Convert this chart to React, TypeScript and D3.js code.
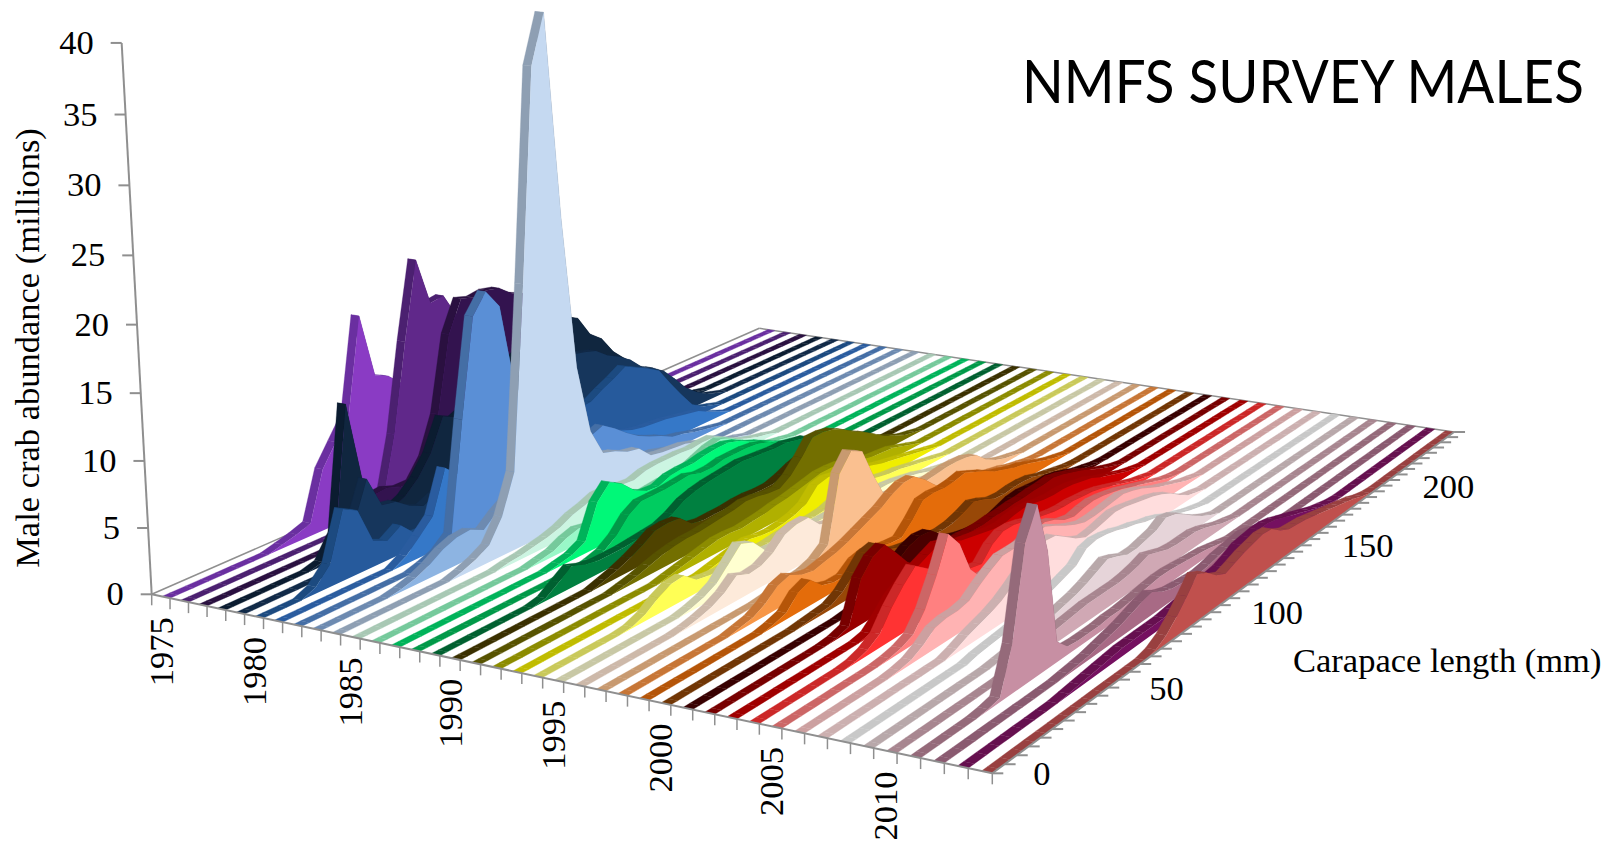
import { useEffect, useRef } from 'react';
import * as d3 from 'd3';

// abundance per 5 mm length bin, each list starts at the bin in startBins
const y1975 = [0.3, 0.6, 1, 4.8, 6.5, 8.2, 15.6, 10.5, 10, 9, 8, 6, 4, 3, 2, 1, 0.5, 0.2];
const y1976 = [0.5, 1.2, 6, 13, 19.1, 15.3, 15.5, 13.5, 11, 9, 7, 5, 3.5, 2.5, 1.5, 1, 0.5];
const y1977 = [1.5, 2.8, 2.9, 2.5, 2.5, 4, 7, 13, 15.5, 15.2, 15.4, 15.2, 14.4, 14, 12.5, 10.5, 9, 7, 5, 4, 3, 2, 1, 0.5];
const y1978 = [0.3, 2, 11.5, 5, 2, 2, 2.5, 3.5, 5, 7.5, 7, 7.5, 8, 9, 9.5, 10, 10.5, 11, 11.3, 11.5, 11, 9.3, 8.5, 7, 6, 5, 3.5, 2.5, 1.5, 0.8, 0.4, 0.2];
const y1979 = [0.5, 3, 6, 3.5, 3.3, 2.5, 2, 2.5, 3, 4, 5, 6, 7, 7.5, 8, 8.3, 8.5, 8.7, 9, 8.8, 8.5, 7.7, 7.2, 6.5, 5.5, 5, 4.3, 3.2, 2, 1.2, 0.6, 0.3];
const y1980 = [0.5, 1.7, 5.4, 4.8, 2, 1.5, 2.2, 1.1, 1, 1, 1.2, 1.5, 2, 2.5, 3, 3.5, 4, 4.3, 4.6, 5, 5.2, 5.3, 5.9, 6.4, 7, 6.5, 6, 5.4, 3.9, 2.5, 1.2, 0.6, 0.3];
const y1981 = [0.6, 1.6, 2.7, 6, 5, 3.5, 3, 2.8, 2.7, 2.7, 2.6, 2.6, 2.6, 2.7, 2.7, 2.7, 2.7, 2.7, 2.3, 2.1, 2, 1.9, 1.7, 1.5, 1.3, 0.8, 0.4];
const y1982 = [0.3, 0.7, 1.6, 10, 17.5, 19, 17.5, 11, 9, 7.5, 6.5, 5.5, 5, 4.3, 4.7, 4, 3.2, 2.5, 2, 1.6, 1.1, 0.9, 0.6, 0.4, 0.2];
const y1983 = [0.2, 0.5, 1, 1.7, 2.1, 2.2, 1.7, 2.6, 3.3, 3.5, 3.3, 3, 2.5, 2.2, 2, 2, 2, 2, 1.8, 1.6, 1.5, 1.2, 0.9, 0.6, 0.4, 0.2];
const y1984 = [0.3, 0.7, 1.3, 3, 6, 20, 36, 39.7, 24, 12, 6.5, 4.3, 4, 3.5, 3.3, 2.3, 2.1, 2, 1.9, 1.6, 1.2, 0.8, 0.5, 0.3];
const y1985 = [0.2, 0.3, 0.5, 0.7, 1, 1.5, 1.8, 2.2, 2.2, 2, 1.9, 2.2, 2.3, 2.3, 2.3, 2.2, 2.3, 2.3, 1.8, 1.2, 0.8, 0.5, 0.3];
const y1986 = [0.2, 0.4, 0.9, 1.2, 1, 1.1, 1.2, 1.4, 1.5, 1.6, 1.7, 1.7, 1.8, 2.2, 2.6, 2.8, 2.4, 1.8, 1.2, 0.7, 0.4, 0.2];
const y1987 = [0.2, 0.4, 0.9, 3.5, 4.6, 4, 3, 2.5, 2.4, 2.8, 2.9, 2.9, 3.1, 3.2, 3.2, 2.9, 2.4, 2, 1.5, 1, 0.6, 0.3];
const y1988 = [0.2, 0.5, 1.2, 2.3, 2.9, 2.9, 2.9, 3, 3.1, 2.8, 2.8, 3, 3, 3, 2.9, 2.6, 2, 1.5, 1, 0.6, 0.3];
const y1989 = [0.2, 0.9, 1.6, 1.2, 1, 1, 1, 1.1, 1.2, 1.3, 1.7, 2.3, 2.6, 2.8, 2.9, 3, 3.1, 3, 2.9, 2.8, 2.8, 2.6, 2.4, 1.8, 1.2, 0.8, 0.4, 0.2];
const y1990 = [0.3, 0.6, 1, 1.5, 2.1, 2.2, 2.1, 1.2, 1, 1, 1, 1.1, 1.1, 1, 1, 1.3, 1.7, 2, 2, 1.8, 1.5, 1.2, 0.8, 0.4, 0.2];
const y1991 = [0.2, 0.4, 0.7, 1, 1.2, 1.3, 1.3, 1.4, 1.5, 1.6, 1.8, 1.7, 1.5, 1.4, 2, 3, 4.2, 4.2, 4, 3.5, 2.9, 2.4, 1.8, 1.2, 0.8, 0.4, 0.2];
const y1992 = [0.2, 0.4, 0.6, 0.8, 1, 1, 0.9, 1, 1.1, 1.3, 1.4, 1.6, 1.8, 2, 2, 1.9, 1.6, 1.3, 1.1, 1, 0.9, 0.6, 0.3];
const y1993 = [0.2, 0.4, 0.6, 0.8, 0.6, 0.5, 0.6, 0.8, 1.2, 2.2, 2.4, 2.2, 2, 1.7, 1.5, 1.2, 1, 0.8, 0.6, 0.4, 0.2];
const y1994 = [0.1, 0.5, 1.2, 1.7, 1.8, 1, 0.8, 0.7, 0.8, 0.9, 0.8, 0.8, 0.9, 1, 1, 0.9, 1, 1.3, 1.5, 1.6, 1.5, 1.3, 1.1, 1, 0.8, 0.6, 0.4, 0.2];
const y1995 = [0.2, 0.5, 1, 2, 3, 2.6, 1.5, 1.4, 1.5, 1.5, 1.5, 1.5, 1.5, 1.5, 1.5, 1.5, 1.4, 1.4, 1.3, 1.1, 0.9, 0.6, 0.4, 0.2];
const y1996 = [0.1, 0.3, 0.6, 1.1, 1.9, 1.5, 1.6, 2.1, 3, 3.3, 3.3, 2.3, 2, 1.9, 1.8, 1.8, 1.7, 1.7, 1.6, 1.5, 1.4, 1.2, 1, 0.8, 0.5, 0.3, 0.1];
const y1997 = [0.1, 0.2, 0.4, 0.5, 0.8, 1.5, 6.5, 7.8, 7.3, 5, 3, 2.3, 2.2, 2.2, 2.2, 2.3, 2.4, 2.4, 2.3, 2, 1.2, 0.7, 0.4, 0.2];
const y1998 = [0.2, 0.4, 0.9, 1.7, 2, 1.5, 1.3, 1.5, 1.7, 2, 2.4, 2.8, 3.2, 3.8, 4.2, 4.2, 3.5, 2.6, 1.9, 1.6, 1.4, 1.3, 1.2, 1, 0.8, 0.5, 0.3, 0.1];
const y1999 = [0.2, 0.5, 1.5, 1.9, 1, 0.7, 0.7, 1.4, 1.6, 1.4, 1.2, 1.1, 2, 3.1, 3.2, 3.1, 3.2, 3.4, 3, 2.6, 2.1, 1.8, 1.5, 1.3, 1, 0.7, 0.4, 0.2];
const y2000 = [0.1, 0.2, 0.3, 0.8, 1.7, 2.7, 2.9, 2, 1.6, 1.4, 1.2, 1.1, 1, 1.1, 1.4, 1.8, 1.5, 1.1, 1, 1.1, 1.1, 1, 0.7, 0.5, 0.3, 0.1];
const y2001 = [0.1, 0.2, 0.5, 1, 1.9, 2.5, 2.8, 2.7, 1.9, 1.3, 1, 0.8, 0.7, 0.8, 1.1, 1.4, 1.5, 1.4, 1.3, 1.3, 1.1, 0.8, 0.5, 0.3, 0.1];
const y2002 = [0.1, 0.4, 3.4, 4.5, 4.9, 3.8, 2.6, 1.8, 1.7, 1.8, 2, 2.1, 2, 2, 2.1, 2.1, 2.2, 2.2, 2.3, 2.3, 2.4, 2.2, 1.9, 1.6, 1.2, 0.8, 0.5, 0.2];
const y2003 = [0.2, 1, 2, 2.5, 3, 3.4, 3.8, 3.5, 3, 2.8, 2.6, 2.4, 2.3, 2.5, 2.6, 2.5, 2.3, 2.2, 2.2, 2.1, 1.9, 1.7, 1.3, 1, 0.7, 0.4, 0.2];
const y2004 = [0.1, 0.4, 1, 2.4, 3.5, 4.4, 3.7, 3, 2.5, 2, 1.7, 1.5, 2.5, 3, 3, 2.8, 2.5, 2.3, 2.1, 2, 2, 1.9, 1.8, 1.6, 1.3, 1, 0.7, 0.4, 0.2];
const y2005 = [0.1, 0.3, 0.7, 2, 4, 6.5, 5.3, 2.9, 1.8, 1.8, 2, 2.2, 2.5, 2.8, 3, 2.7, 2.2, 2, 2.2, 2.3, 2.2, 2, 1.8, 1.5, 1.2, 0.9, 0.6, 0.3, 0.1];
const y2006 = [0.1, 0.3, 0.8, 1.5, 1.7, 1.7, 1.9, 2.6, 3.2, 3.7, 3.7, 3.7, 3.8, 3.9, 3.5, 3, 2.6, 2.3, 2.3, 2.4, 2.5, 2.6, 2.4, 2.1, 1.7, 1.3, 1, 0.7, 0.4, 0.2];
const y2007 = [0.3, 0.7, 1, 1.3, 1.7, 2.3, 3, 3.6, 4.1, 4, 3.4, 2.8, 2.4, 2.5, 2.7, 2.9, 2.8, 2.6, 2.4, 2.2, 1.9, 1.5, 0.9, 0.4, 0.2];
const y2008 = [0.2, 0.3, 0.4, 0.5, 0.6, 0.8, 1.1, 1.4, 1.7, 2, 2.8, 3, 2.9, 2.7, 2.4, 2.2, 1.9, 1.7, 1.4, 1, 0.7, 0.4, 0.2];
const y2009 = [0.1, 0.2, 0.3, 0.4, 0.6, 0.8, 1, 1.2, 1.5, 1.9, 2.3, 2, 1.6, 1.6, 1.8, 2, 2.5, 2.3, 1.8, 1.2, 0.7, 0.3];
const y2010 = [0.1, 0.3, 0.5, 0.7, 1, 1.1, 1.2, 1.3, 1.3, 1.3, 1.3, 1.4, 1.6, 1.9, 1.6, 1.3, 1.2, 1.2, 1.2, 1, 0.7, 0.4, 0.2];
const y2011 = [0.1, 0.3, 3.5, 10, 12.2, 8.5, 1.5, 0.6, 0.5, 0.5, 0.5, 0.6, 0.6, 0.7, 0.8, 0.9, 1, 1, 0.9, 0.8, 0.7, 0.6, 0.4, 0.2];
const y2012 = [0.1, 0.2, 0.3, 0.5, 0.7, 0.9, 1.2, 1.5, 1.7, 1.2, 0.9, 0.8, 0.7, 0.6, 0.7, 0.9, 1, 1.1, 1.2, 1, 0.7, 0.4, 0.2];
const y2013 = [0.1, 0.2, 0.3, 0.4, 0.5, 0.6, 0.6, 0.6, 0.6, 0.6, 0.7, 0.8, 0.9, 1, 1.2, 1.3, 1.6, 2, 2.1, 2.2, 2.2, 2, 1.7, 1.4, 1.1, 0.8, 0.5, 0.3, 0.1];
const y2014 = [0.2, 0.7, 1.5, 2.5, 3.6, 3.2, 2.5, 2.1, 2.4, 2.7, 2.9, 3.1, 3, 2.4, 2, 1.9, 1.8, 1.6, 1.4, 1.2, 1, 0.8, 0.6, 0.3, 0.1];

const abundance = [
  y1975, y1976, y1977, y1978, y1979, y1980, y1981, y1982, y1983, y1984,
  y1985, y1986, y1987, y1988, y1989, y1990, y1991, y1992, y1993, y1994,
  y1995, y1996, y1997, y1998, y1999, y2000, y2001, y2002, y2003, y2004,
  y2005, y2006, y2007, y2008, y2009, y2010, y2011, y2012, y2013, y2014,
];
const startBins = [
  7, 12, 10, 6, 6, 3, 8, 8, 5, 8,
  10, 11, 11, 12, 7, 10, 10, 12, 14, 6,
  9, 7, 12, 8, 9, 10, 12, 9, 10, 7,
  8, 7, 10, 10, 10, 9, 5, 10, 8, 14,
];

const faceColors = [
  '#8a3bc4', '#60288a', '#33134f', '#10263f', '#16365c', '#265a9c', '#3578c8', '#5a8fd6', '#8db4e2', '#c5d9f1',
  '#ccf5e2', '#99f8c8', '#00f878', '#00cc60', '#008040', '#4f4300', '#736f00', '#b0b000', '#f0ee00', '#ffff55',
  '#ffffd0', '#fdeada', '#fac090', '#f79646', '#e46c0a', '#984807', '#4a0000', '#990000', '#cc0000', '#ff3333',
  '#ff8080', '#ffb3b3', '#ffdddd', '#ffffff', '#e6d4d9', '#d0a8b4', '#c78fa3', '#a86a85', '#751060', '#c0504d',
];
const stripColors = [
  '#6a2fa0', '#4b2070', '#2a1040', '#0b1c30', '#112a48', '#1c4a80', '#2a5c9f', '#446ea5', '#6d8ab0', '#8e9fb3',
  '#a8c8b4', '#75c99b', '#00b35a', '#009948', '#006030', '#3a3000', '#575300', '#8c8c00', '#c0bc00', '#c9c95a',
  '#c8c8a5', '#cdb9a9', '#c89a70', '#c77636', '#b55508', '#713605', '#380000', '#780000', '#a00000', '#cc2828',
  '#cc6666', '#cca0a0', '#ccb0b0', '#c8c8c8', '#b8a8aa', '#a88690', '#956a7a', '#8a5a70', '#66104f', '#994040',
];

const yearTicks = [1975, 1980, 1985, 1990, 1995, 2000, 2005, 2010];
const lengthTicks = [0, 50, 100, 150, 200];
const abundanceTicks = [0, 5, 10, 15, 20, 25, 30, 35, 40];

const years = d3.range(1975, 2015);
const lengthEdges = d3.range(0, 255, 5);
const AXIS = '#8f8f8f';
const SERIF = '"Liberation Serif", serif';

const yearScale = d3.scaleBand<number>().domain(years).range([0, 1]);
const lengthScale = d3.scaleLinear().domain([0, 250]).range([0, 1]);

// bin centres, plus the two floor ends so that each ribbon runs the whole floor
const binCentres = d3.range(2.5, 250, 5);
const ribbonStops = [0, ...binCentres, 250];

// camera fitted on the four floor corners and the top of the abundance axis
const project = (u: number, v: number, z: number): [number, number] => {
  const w = 1 - 0.1305 * u + 0.2967 * v - 0.00107 * z;
  return [
    (711.1 * u + 832.9 * v + 151.7 - 0.881 * z) / w,
    (78.1 * u - 168.6 * v + 594.3 - 13.83 * z) / w,
  ];
};

const seriesValues = (k: number) => {
  const bins = binCentres.map((_, j) => abundance[k][j - startBins[k]] ?? 0);
  return [bins[0], ...bins, bins[bins.length - 1]];
};

export default function App() {
  const svgRef = useRef<SVGSVGElement>(null);

  useEffect(() => {
    if (!svgRef.current) return;
    const svg = d3.select(svgRef.current);
    svg.selectAll('*').remove();

    const line = d3.line<[number, number]>();
    const band = yearScale.bandwidth();

    const drawEdge = (
      parent: d3.Selection<SVGGElement, unknown, null, undefined>,
      a: [number, number],
      b: [number, number],
      width = 2,
    ) =>
      parent.append('line')
        .attr('x1', a[0]).attr('y1', a[1])
        .attr('x2', b[0]).attr('y2', b[1])
        .attr('stroke-width', width);

    // Back edges of the floor sit behind the ribbons
    const backEdges = svg.append('g').attr('stroke', AXIS) as any;
    drawEdge(backEdges, project(0, 0, 0), project(0, 1, 0), 1.5);
    drawEdge(backEdges, project(0, 1, 0), project(1, 1, 0), 1.5);

    // Ribbons, back to front
    const ribbons = svg.append('g');
    years.forEach((year, k) => {
      const uBack = yearScale(year)! + band * 0.55;
      const uFront = yearScale(year)! + band;
      const values = seriesValues(k);
      const g = ribbons.append('g');

      // top surface, far bins first
      for (let j = ribbonStops.length - 2; j >= 0; j--) {
        const v0 = lengthScale(ribbonStops[j]);
        const v1 = lengthScale(ribbonStops[j + 1]);
        g.append('path')
          .attr('d', line([
            project(uFront, v0, values[j]),
            project(uFront, v1, values[j + 1]),
            project(uBack, v1, values[j + 1]),
            project(uBack, v0, values[j]),
          ]) + 'Z')
          .attr('fill', stripColors[k])
          .attr('stroke', stripColors[k])
          .attr('stroke-width', 0.3);
      }

      // front face
      const outline = ribbonStops.map((l, j) => project(uFront, lengthScale(l), values[j]));
      const floor = [project(uFront, 1, 0), project(uFront, 0, 0)];
      g.append('path')
        .attr('d', line([...outline, ...floor]) + 'Z')
        .attr('fill', faceColors[k]);
    });

    // Front floor edges and abundance axis
    const axes = svg.append('g').attr('stroke', AXIS).attr('fill', 'none') as any;
    drawEdge(axes, project(0, 0, 0), project(1, 0, 0));
    drawEdge(axes, project(1, 0, 0), project(1, 1, 0));
    drawEdge(axes, project(0, 0, 0), project(0, 0, 40));

    d3.range(0, 41).forEach((i) => {
      const p = project(i / 40, 0, 0);
      drawEdge(axes, p, [p[0], p[1] + 11], 1.5);
    });
    lengthEdges.forEach((l) => {
      const p = project(1, lengthScale(l), 0);
      drawEdge(axes, p, [p[0] + 11, p[1]], 2);
    });
    abundanceTicks.forEach((t) => {
      const p = project(0, 0, t);
      drawEdge(axes, p, [p[0] - 11, p[1]], 2);
    });

    // Labels
    const labels = svg.append('g')
      .attr('font-family', SERIF)
      .attr('font-size', 34.5)
      .attr('fill', '#000');

    abundanceTicks.forEach((t) => {
      const p = project(0, 0, t);
      labels.append('text')
        .attr('x', p[0] - 28)
        .attr('y', p[1] + 11)
        .attr('text-anchor', 'end')
        .text(t);
    });
    yearTicks.forEach((year) => {
      const p = project(yearScale(year)! + band / 2, 0, 0);
      labels.append('text')
        .attr('transform', `translate(${p[0] + 12},${p[1] + 21}) rotate(-90)`)
        .attr('text-anchor', 'end')
        .text(year);
    });
    lengthTicks.forEach((l) => {
      const p = project(1, lengthScale(l), 0);
      labels.append('text')
        .attr('x', p[0] + 41)
        .attr('y', p[1] + 12)
        .text(l);
    });
    labels.append('text')
      .attr('transform', 'translate(39,348) rotate(-90)')
      .attr('text-anchor', 'middle')
      .text('Male crab abundance (millions)');
    labels.append('text')
      .attr('x', 1293)
      .attr('y', 672)
      .text('Carapace length (mm)');

    // Title is squeezed horizontally to the width it has in the reference
    const title = svg.append('text')
      .attr('font-family', 'Lato, sans-serif')
      .attr('font-size', 60)
      .attr('fill', '#000')
      .text('NMFS SURVEY MALES');
    const natural = (title.node() as SVGTextElement).getComputedTextLength();
    title.attr('transform', `translate(1022,103) scale(${562 / natural},1)`);
  }, []);

  return (
    <svg
      ref={svgRef}
      width={1618}
      height={842}
      style={{ position: 'absolute', left: 0, top: 0, background: '#fff' }}
    />
  );
}
